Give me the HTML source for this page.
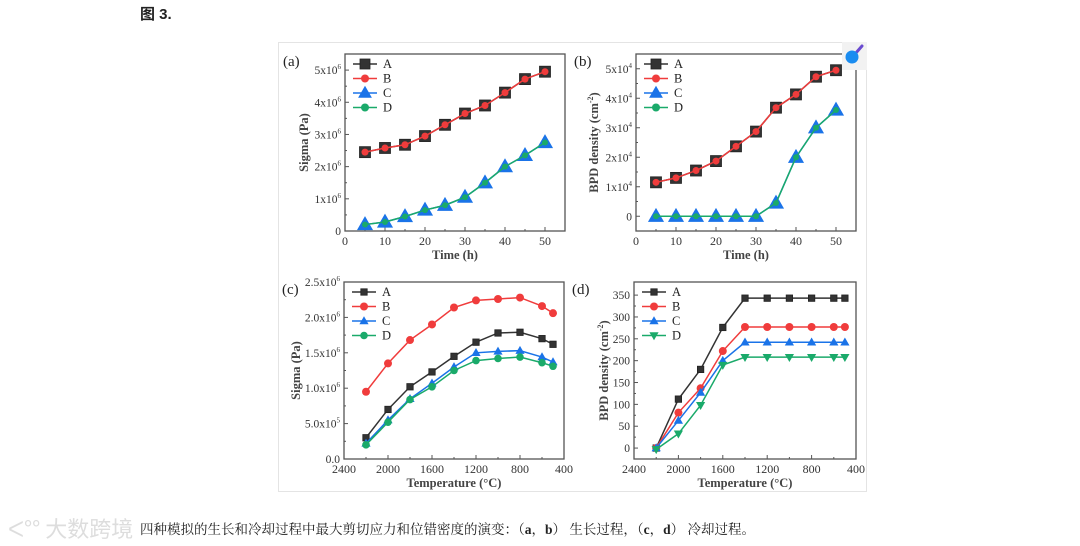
<!DOCTYPE html>
<html><head><meta charset="utf-8">
<style>
html,body{margin:0;padding:0;background:#fff;}
body{width:1080px;height:546px;position:relative;overflow:hidden;font-family:"Liberation Serif","Noto Serif CJK SC",serif;}
#title{position:absolute;left:140px;top:3px;font:bold 15px "Liberation Sans","Noto Sans CJK SC",sans-serif;color:#222;}
#caption{position:absolute;left:140px;top:518px;font-size:13.5px;color:#222;font-family:"Liberation Serif","Noto Serif CJK SC",serif;white-space:nowrap;}
#wm{position:absolute;left:8px;top:512px;font:22px "Noto Sans CJK SC",sans-serif;color:#ddd;}
#card{position:absolute;left:278px;top:42px;width:589px;height:450px;border:1px solid #e4e4e4;box-sizing:border-box;}
svg{position:absolute;left:0;top:0;}
</style></head>
<body>
<div id="title">图 3.</div>
<div id="card"></div>
<div id="wm">ᐸ°° 大数跨境</div>
<div id="caption">四种模拟的生长和冷却过程中最大剪切应力和位错密度的演变：（<b>a</b>，<b>b</b>） 生长过程，（<b>c</b>，<b>d</b>） 冷却过程。</div>
<svg id="fig" width="1080" height="546"></svg>
<script>
// ---- data ----
const timeH = [5,10,15,20,25,30,35,40,45,50];
const aSigmaAB = [2.45,2.58,2.68,2.95,3.3,3.65,3.9,4.3,4.72,4.95];
const aSigmaCD = [0.2,0.28,0.45,0.65,0.8,1.05,1.5,2.0,2.35,2.75];
const bBpdAB = [1.15,1.3,1.55,1.87,2.37,2.87,3.68,4.13,4.73,4.95];
const bBpdCD = [0,0,0,0,0,0,0.45,2.0,3.0,3.6];
const tempC = [2200,2000,1800,1600,1400,1200,1000,800,600,500];
const cSigmaA = [0.3,0.7,1.02,1.23,1.45,1.65,1.78,1.79,1.7,1.62];
const cSigmaB = [0.95,1.35,1.68,1.9,2.14,2.24,2.26,2.28,2.16,2.06];
const cSigmaC = [0.22,0.55,0.85,1.07,1.3,1.5,1.52,1.53,1.44,1.37];
const cSigmaD = [0.2,0.52,0.84,1.02,1.25,1.39,1.42,1.44,1.36,1.31];
const dBpdA = [0,112,180,276,343,343,343,343,343,343];
const dBpdB = [0,81,137,222,277,277,277,277,277,277];
const dBpdC = [0,63,127,200,242,242,242,242,242,242];
const dBpdD = [-3,33,98,190,208,208,208,208,208,208];
const timeTicks = [0,10,20,30,40,50];
const tempTicks = [2400,2000,1600,1200,800,400];
const aYTicks = [0,1,2,3,4,5];
const bYTicks = [0,1,2,3,4,5];
const cYTicks = [0,0.5,1.0,1.5,2.0,2.5];
const cYLabels = ["0.0","5.0x10⁵","1.0x10⁶","1.5x10⁶","2.0x10⁶","2.5x10⁶"];
const dYTicks = [0,50,100,150,200,250,300,350];

const NS="http://www.w3.org/2000/svg";
const svg=document.getElementById('fig');
function mk(tag,attrs,parent,text){const e=document.createElementNS(NS,tag);for(const k in attrs)e.setAttribute(k,attrs[k]);if(text!==undefined)e.textContent=text;(parent||svg).appendChild(e);return e;}
const COL={A:'#333333',B:'#f03c3c',C:'#1a73e8',D:'#1aaa6a'};

function panel(p){
  const g=mk('g',{});
  
  
  const X=v=>p.L+(v-p.x0)/(p.x1-p.x0)*(p.R-p.L);
  const Y=v=>p.B-(v-p.y0)/(p.y1-p.y0)*(p.B-p.T);
  const f=mk('rect',{x:p.L,y:p.T,width:p.R-p.L,height:p.B-p.T,fill:'none',stroke:'#555','stroke-width':1.3},g);
  
  
  p.xt.forEach(v=>{const x=X(v);mk('line',{x1:x,x2:x,y1:p.B,y2:p.B-4,stroke:'#555'},g);
    const t=mk('text',{x:x,y:p.B+14,'text-anchor':'middle','font-size':12,fill:'#333'},g,String(v));
    });
  const xm=(p.xt[1]-p.xt[0])/2;
  for(let i=0;i<p.xt.length-1;i++){const x=X(p.xt[i]+xm);mk('line',{x1:x,x2:x,y1:p.B,y2:p.B-2,stroke:'#555'},g);}
  p.yt.forEach((v,i)=>{const y=Y(v);mk('line',{x1:p.L,x2:p.L+4,y1:y,y2:y,stroke:'#555'},g);
    const t=mk('text',{x:p.L-4,y:y+4,'text-anchor':'end','font-size':11.5,fill:'#333'},g);
    
    const lab=p.yl(v,i);
    if(lab[1]){t.textContent=lab[0];mk('tspan',{'font-size':7,dy:-5},t,lab[1]);}else t.textContent=lab[0];
    if(i<p.yt.length-1){const ym=Y(v+(p.yt[1]-p.yt[0])/2);mk('line',{x1:p.L,x2:p.L+2,y1:ym,y2:ym,stroke:'#555'},g);}
  });
  const xl=mk('text',{x:(p.L+p.R)/2,y:p.B+28,'text-anchor':'middle','font-size':12.5,'font-weight':'bold',fill:'#444'},g,p.xlabel);
  
  const yl=mk('text',{x:0,y:0,'text-anchor':'middle','font-size':12.5,'font-weight':'bold',fill:'#444',transform:`translate(${p.ylx},${(p.T+p.B)/2}) rotate(-90)`},g,p.ylabel);
  if(p.ylsup) mk('tspan',{'font-size':8,dy:-5},yl,p.ylsup); if(p.ylsup) mk('tspan',{dy:5},yl,')');
  
  const pl=mk('text',{x:p.L-62,y:p.T+12,'font-size':15,fill:'#222'},g,'('+p.id+')');
  
  p.series.forEach(s=>{
    const pts=s.vals.map((v,i)=>[X(p.xs[i]),Y(v)]);
    const l=mk('polyline',{points:pts.map(q=>q.join(',')).join(' '),fill:'none',stroke:COL[s.n],'stroke-width':1.5},g);
    
    pts.forEach(q=>marker(g,s.m,q[0],q[1],COL[s.n],s.sz,s.n));
  });
  p.leg.forEach((s,i)=>{const y=p.T+10+i*14.5,x=p.L+8;
    mk('line',{x1:x,x2:x+24,y1:y,y2:y,stroke:COL[s.n],'stroke-width':1.5},g);
    marker(g,s.m,x+12,y,COL[s.n],s.sz,s.n);
    const t=mk('text',{x:x+30,y:y+4,'font-size':12.5,fill:'#222'},g,s.n);
    
  });
}
function marker(g,m,x,y,c,sz,n){
  let e;const r=sz;
  if(m==='sq') e=mk('rect',{x:x-r,y:y-r,width:2*r,height:2*r,fill:c,stroke:'#222','stroke-width':0.8},g);
  else if(m==='ci') e=mk('circle',{cx:x,cy:y,r:r,fill:c},g);
  else if(m==='tri') e=mk('polygon',{points:`${x},${y-r*1.2} ${x-r*1.15},${y+r*0.8} ${x+r*1.15},${y+r*0.8}`,fill:c},g);
  else if(m==='dtri') e=mk('polygon',{points:`${x},${y+r*1.2} ${x-r*1.15},${y-r*0.8} ${x+r*1.15},${y-r*0.8}`,fill:c},g);
  
  
}
const sup6=(v)=>v===0?['0']:[v+'x10','6'];
const sup4=(v)=>v===0?['0']:[v+'x10','4'];
panel({id:'a',L:345,R:565,T:54,B:231,x0:0,x1:55,y0:0,y1:5.5,xt:timeTicks,yt:aYTicks,yl:sup6,xs:timeH,
  xlabel:'Time (h)',ylabel:'Sigma (Pa)',ylx:308,
  series:[{n:'A',vals:aSigmaAB,m:'sq',sz:5.5},{n:'B',vals:aSigmaAB,m:'ci',sz:3.5},{n:'C',vals:aSigmaCD,m:'tri',sz:7},{n:'D',vals:aSigmaCD,m:'ci',sz:3}],
  leg:[{n:'A',m:'sq',sz:5},{n:'B',m:'ci',sz:4},{n:'C',m:'tri',sz:6},{n:'D',m:'ci',sz:4}]});
panel({id:'b',L:636,R:856,T:54,B:231,x0:0,x1:55,y0:-0.5,y1:5.5,xt:timeTicks,yt:bYTicks,yl:sup4,xs:timeH,
  xlabel:'Time (h)',ylabel:'BPD density (cm',ylsup:'-2',ylx:598,
  series:[{n:'A',vals:bBpdAB,m:'sq',sz:5.5},{n:'B',vals:bBpdAB,m:'ci',sz:3.5},{n:'C',vals:bBpdCD,m:'tri',sz:7},{n:'D',vals:bBpdCD,m:'ci',sz:3}],
  leg:[{n:'A',m:'sq',sz:5},{n:'B',m:'ci',sz:4},{n:'C',m:'tri',sz:6},{n:'D',m:'ci',sz:4}]});
panel({id:'c',L:344,R:564,T:282,B:459,x0:2400,x1:400,y0:0,y1:2.5,xt:tempTicks,yt:cYTicks,
  yl:(v,i)=>{const s=cYLabels[i];const k=s.indexOf('x10');return k<0?[s]:[s.slice(0,k+3),s.slice(k+3)==='⁵'?'5':'6'];},xs:tempC,
  xlabel:'Temperature (°C)',ylabel:'Sigma (Pa)',ylx:300,
  series:[{n:'A',vals:cSigmaA,m:'sq',sz:3.2},{n:'B',vals:cSigmaB,m:'ci',sz:4},{n:'C',vals:cSigmaC,m:'tri',sz:4},{n:'D',vals:cSigmaD,m:'ci',sz:3.8}],
  leg:[{n:'A',m:'sq',sz:3.2},{n:'B',m:'ci',sz:4},{n:'C',m:'tri',sz:4},{n:'D',m:'ci',sz:3.8}]});
panel({id:'d',L:634,R:856,T:282,B:459,x0:2400,x1:400,y0:-25,y1:380,xt:tempTicks,yt:dYTicks,yl:v=>[String(v)],xs:tempC,
  xlabel:'Temperature (°C)',ylabel:'BPD density (cm',ylsup:'-2',ylx:608,
  series:[{n:'A',vals:dBpdA,m:'sq',sz:3.2},{n:'B',vals:dBpdB,m:'ci',sz:4},{n:'C',vals:dBpdC,m:'tri',sz:4},{n:'D',vals:dBpdD,m:'dtri',sz:4}],
  leg:[{n:'A',m:'sq',sz:3.2},{n:'B',m:'ci',sz:4},{n:'C',m:'tri',sz:4},{n:'D',m:'dtri',sz:4}]});
const ic=mk('g',{});


mk('rect',{x:842,y:42,width:25,height:28,fill:'#f2f2f2'},ic);
mk('line',{x1:855,y1:54,x2:862,y2:46,stroke:'#6a4bd0','stroke-width':3,'stroke-linecap':'round'},ic);
mk('circle',{cx:852,cy:57,r:6.5,fill:'#1a8cf0'},ic);
</script>
</body></html>
